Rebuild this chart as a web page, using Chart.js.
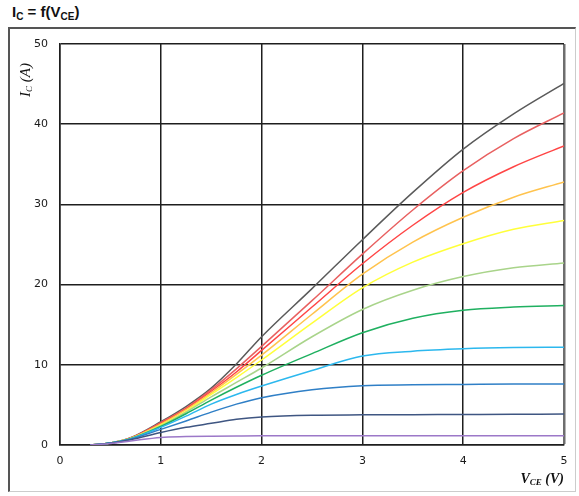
<!DOCTYPE html>
<html>
<head>
<meta charset="utf-8">
<script src="https://cdn.jsdelivr.net/npm/chart.js@4/dist/chart.umd.min.js"></script>
<style>
  html, body { margin:0; padding:0; background:#fff; }
  body { width:579px; height:496px; position:relative; overflow:hidden; }
  #title { position:absolute; left:12px; top:3px; font:bold 15px "Liberation Sans", Arial, sans-serif; color:#111; white-space:nowrap; }
  #title sub { font-size:10px; vertical-align:-3px; line-height:0; }
  #frame { position:absolute; left:8px; top:27px; width:568px; height:465px; box-sizing:border-box;
           border-left:2px solid #555; border-top:2px solid #555; border-right:1px solid #ccc; border-bottom:1px solid #ccc; }
  #wrap { position:absolute; left:0; top:0; width:579px; height:496px; }
  #ytitle { position:absolute; left:-7px; top:72px; width:64px; height:16px; line-height:16px; text-align:center;
            transform:rotate(-90deg); font:italic 15px "Liberation Serif", "Times New Roman", serif; color:#111; white-space:nowrap; }
  #xtitle { position:absolute; left:490px; top:471px; width:74px; height:18px; line-height:18px; text-align:right;
            font:italic bold 14px "Liberation Serif", "Times New Roman", serif; color:#111; white-space:nowrap; }
  #ytitle sub, #xtitle sub { font-size:9px; vertical-align:-2px; line-height:0; }
</style>
</head>
<body>
<div id="title">I<sub>C</sub> = f(V<sub>CE</sub>)</div>
<div id="frame"></div>
<div id="wrap"><canvas id="c"></canvas></div>
<div id="ytitle">I<sub>C</sub> (A)</div>
<div id="xtitle">V<sub>CE</sub> (V)</div>
<script>
// V_CE sample points (V)
const vce = [0.3, 0.5, 0.7, 1, 1.25, 1.5, 1.75, 2, 2.5, 3, 3.5, 4, 4.5, 5];
// I_C curves (A), one per gate voltage, top to bottom
const curveBlack   = [0, 0.25, 0.9, 2.9, 4.8, 7.1, 10.1, 13.5, 19.5, 25.6, 31.5, 36.9, 41.3, 45.1];
const curveDarkRed = [0, 0.25, 0.88, 2.8, 4.6, 6.9, 9.5, 12.3, 18.0, 23.8, 29.3, 34.2, 38.2, 41.4];
const curveRed     = [0, 0.25, 0.86, 2.7, 4.5, 6.7, 9.1, 11.8, 17.2, 22.6, 27.4, 31.5, 34.7, 37.3];
const curveOrange  = [0, 0.25, 0.84, 2.6, 4.4, 6.5, 8.8, 11.2, 16.3, 21.3, 25.3, 28.4, 30.9, 32.8];
const curveYellow  = [0, 0.25, 0.82, 2.5, 4.2, 6.3, 8.4, 10.6, 15.2, 19.6, 22.8, 25.1, 26.9, 28.0];
const curveLtGreen = [0, 0.25, 0.8, 2.4, 4.1, 6.0, 7.8, 9.6, 13.5, 16.9, 19.3, 21.0, 22.1, 22.7];
const curveGreen   = [0, 0.25, 0.78, 2.3, 3.9, 5.6, 7.2, 8.7, 11.4, 14.0, 15.8, 16.8, 17.2, 17.4];
const curveLtBlue  = [0, 0.25, 0.76, 2.2, 3.6, 5.1, 6.3, 7.35, 9.3, 11.1, 11.7, 12.0, 12.15, 12.2];
const curveBlue    = [0, 0.24, 0.72, 1.95, 3.0, 4.1, 5.1, 5.9, 6.9, 7.4, 7.5, 7.55, 7.6, 7.6];
const curveNavy    = [0, 0.22, 0.65, 1.55, 2.2, 2.7, 3.2, 3.5, 3.72, 3.76, 3.78, 3.8, 3.82, 3.85];
const curvePurple  = [0, 0.18, 0.5, 0.95, 1.05, 1.1, 1.13, 1.15, 1.15, 1.15, 1.15, 1.15, 1.15, 1.15];
// axis ticks
const xTicks = [0, 1, 2, 3, 4, 5];
const yTicks = [0, 10, 20, 30, 40, 50];

const series = [
  [curvePurple,  '#9c78c8'],
  [curveNavy,    '#3f5682'],
  [curveBlue,    '#2f7fc6'],
  [curveLtBlue,  '#2cb8ee'],
  [curveGreen,   '#1fb060'],
  [curveLtGreen, '#a9d48a'],
  [curveYellow,  '#ffff3a'],
  [curveOrange,  '#ffc34d'],
  [curveRed,     '#ff4545'],
  [curveDarkRed, '#e86060'],
  [curveBlack,   '#5a5a5a']
];

const datasets = series.map(([vals, col]) => ({
  data: vals.map((v, i) => ({ x: vce[i], y: v })),
  borderColor: col,
  backgroundColor: col,
  borderWidth: 1.5,
  pointRadius: 0,
  fill: false,
  cubicInterpolationMode: 'monotone'
}));

const tickFont = { family: '"DejaVu Sans", Verdana, sans-serif', size: 11 };

new Chart(document.getElementById('c'), {
  type: 'line',
  data: { datasets },
  options: {
    responsive: true,
    maintainAspectRatio: false,
    animation: false,
    events: [],
    layout: { padding: { left: 0, right: 15, top: 44, bottom: 31 } },
    plugins: { legend: { display: false }, tooltip: { enabled: false }, title: { display: false } },
    scales: {
      x: {
        type: 'linear', min: 0, max: 5,
        afterBuildTicks: s => { s.ticks = xTicks.map(v => ({ value: v })); },
        afterFit: s => { s.height = 20; },
        ticks: { padding: 10, color: '#1a1a1a', font: tickFont, maxRotation: 0 },
        grid: {
          drawTicks: false,
          color: c => c.tick && c.tick.value === 5 ? '#6e6e6e' : '#1e1e1e',
          lineWidth: c => c.tick && c.tick.value === 5 ? 2.5 : 1.5
        },
        border: { display: true, color: '#1e1e1e', width: 1.5 }
      },
      y: {
        type: 'linear', min: 0, max: 50,
        afterBuildTicks: s => { s.ticks = yTicks.map(v => ({ value: v })); },
        afterFit: s => { s.width = 60; },
        ticks: { padding: 12, color: '#1a1a1a', font: tickFont },
        grid: { drawTicks: false, color: '#1e1e1e', lineWidth: 1.5 },
        border: { display: true, color: '#1e1e1e', width: 1.5 }
      }
    }
  }
});
</script>
</body>
</html>
